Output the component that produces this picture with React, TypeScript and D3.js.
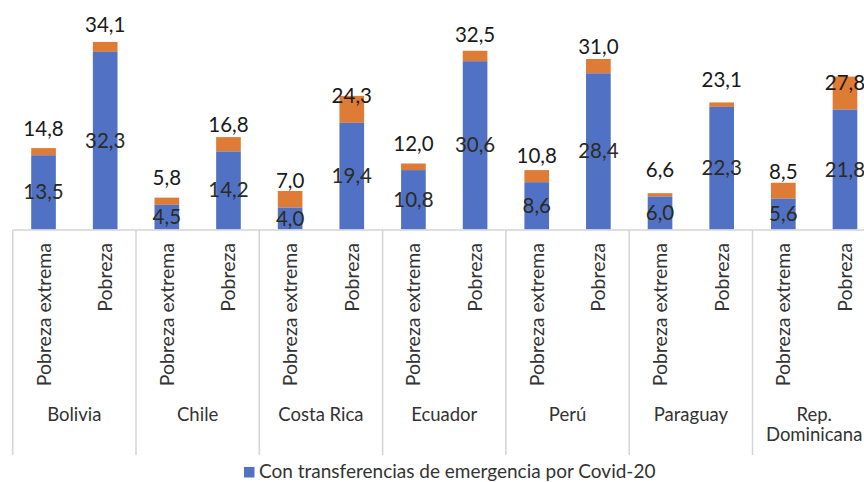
import React from "react";
import * as d3 from "d3";

const countries = ["Bolivia", "Chile", "Costa Rica", "Ecuador", "Perú", "Paraguay", "Rep. Dominicana"];
const kinds = ["Pobreza extrema", "Pobreza"];
// Con transferencias de emergencia (blue)
const conTransf = [13.5, 32.3, 4.5, 14.2, 4.0, 19.4, 10.8, 30.6, 8.6, 28.4, 6.0, 22.3, 5.6, 21.8];
// Sin transferencias (total, top label)
const sinTransf = [14.8, 34.1, 5.8, 16.8, 7.0, 24.3, 12.0, 32.5, 10.8, 31.0, 6.6, 23.1, 8.5, 27.8];
const legendLabel = "Con transferencias de emergencia por Covid-20";

const W = 864;
const H = 482;
const BLUE = "#5172C4";
const ORANGE = "#DE7B34";
const GRID = "#D4D4D4";
const FONT = "Lato, 'Open Sans', sans-serif";

const fmt = (v: number) => v.toFixed(1).replace(".", ",");

export default function App() {
  const slots = d3.range(countries.length * kinds.length).map(String);
  const x0 = 12.7;
  const groupStep = 123.3;
  const x = d3
    .scaleBand<string>()
    .domain(slots)
    .range([x0, x0 + groupStep * countries.length])
    .paddingInner(0.6)
    .paddingOuter(0.3);
  const y = d3.scaleLinear().domain([0, 40]).range([229.5, 9.5]);
  const bw = x.bandwidth();
  const baseY = 230;
  const sepBottom = 455;

  return (
    <svg
      width={W}
      height={H}
      style={{ position: "absolute", left: 0, top: 0, background: "#fff" }}
      fontFamily={FONT}
    >
      {/* bars */}
      {slots.map((s, i) => {
        const bx = x(s)!;
        const blueTop = y(conTransf[i]);
        const totTop = y(sinTransf[i]);
        return (
          <g key={s}>
            <rect x={bx} y={totTop} width={bw} height={blueTop - totTop} fill={ORANGE} />
            <rect x={bx} y={blueTop} width={bw} height={y(0) - blueTop} fill={BLUE} />
          </g>
        );
      })}
      {/* axis line and separators */}
      <line x1={x0} x2={W} y1={baseY} y2={baseY} stroke={GRID} strokeWidth={1.5} />
      {d3.range(countries.length + 1).map((g) => {
        const sx = x0 + g * groupStep;
        return <line key={g} x1={sx} x2={sx} y1={baseY} y2={sepBottom} stroke={GRID} strokeWidth={1.5} />;
      })}
      {/* value labels */}
      {slots.map((s, i) => {
        const cx = x(s)! + bw / 2;
        const blueTop = y(conTransf[i]);
        const mid = (blueTop + y(0)) / 2;
        return (
          <g key={"l" + s} fontSize={20.5} textAnchor="middle">
            <text x={cx} y={blueTop - 19.5} fill="#1a1a1a">
              {fmt(sinTransf[i])}
            </text>
            <text x={cx} y={mid + 7} fill="#2b2b22">
              {fmt(conTransf[i])}
            </text>
          </g>
        );
      })}
      {/* rotated category labels */}
      {slots.map((s, i) => {
        const cx = x(s)! + bw / 2;
        return (
          <text
            key={"k" + s}
            transform={`translate(${cx + 7},243) rotate(-90)`}
            textAnchor="end"
            fontSize={19.5}
            fill="#333"
          >
            {kinds[i % kinds.length]}
          </text>
        );
      })}
      {/* country labels */}
      {countries.map((c, g) => {
        const cx = x0 + g * groupStep + groupStep / 2;
        const parts = c === "Rep. Dominicana" ? ["Rep.", "Dominicana"] : [c];
        return (
          <text key={c} x={cx} y={421} textAnchor="middle" fontSize={18.5} fill="#333">
            {parts.map((p, j) => (
              <tspan key={j} x={cx} dy={j === 0 ? 0 : 20}>
                {p}
              </tspan>
            ))}
          </text>
        );
      })}
      {/* legend */}
      <rect x={244} y={467} width={10.5} height={10.5} fill={BLUE} />
      <text x={259} y={478} fontSize={19} fill="#333">
        {legendLabel}
      </text>
    </svg>
  );
}
